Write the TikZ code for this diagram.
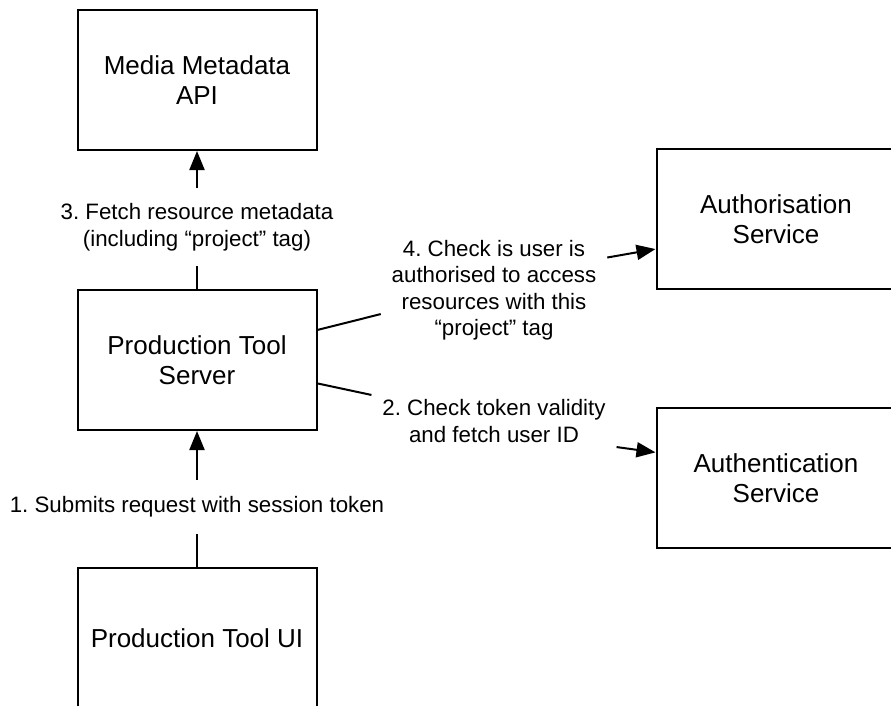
\documentclass[tikz,border=0pt]{standalone}
\usepackage{fontspec}
\setmainfont{Liberation Sans}
\usetikzlibrary{arrows.meta}
\frenchspacing

\begin{document}
\begin{tikzpicture}
[x=1pt,y=-1pt,line width=2pt,every node/.style={align=center},
 box/.style={draw,minimum width=239pt,minimum height=140pt,font=\fontsize{26}{30.5}\selectfont},
 lbl/.style={font=\fontsize{22.3}{26.5}\selectfont,inner sep=10pt},
 arr/.style={-{Triangle[length=19pt,width=15pt]}}]
\clip (0,0) rectangle (891,706);
% services
\node[box] (media) at (197,80) {Media Metadata\\API};
\node[box] (server) at (197,360) {Production Tool\\Server};
\node[box] (ui) at (197,638) {Production Tool UI};
\node[box] (authz) at (776,219) {Authorisation\\Service};
\node[box] (authn) at (776,478) {Authentication\\Service};
% steps
\node[lbl,inner sep=16pt] (s1) at (197,507) {1. Submits request with session token};
\node[lbl] (s2) at (494,421) {2. Check token validity\\and fetch user ID};
\node[lbl,inner sep=14pt] (s3) at (197,227) {3. Fetch resource metadata\\(including “project” tag)};
\node[lbl] (s4) at (494,290) {4. Check is user is\\authorised to access\\resources with this\\“project” tag};
\foreach \from/\to in {ui.north/s1.south,server.north/s3.south,server.14/s4.192,server.-11/s2.168}
\draw (\from) -- (\to);
\foreach \from/\to in {s1.north/server.south,s3.north/media.south,s4.16/authz.194,s2.-12/authn.168}
\draw[arr] (\from) -- (\to);

\end{tikzpicture}
\end{document}
